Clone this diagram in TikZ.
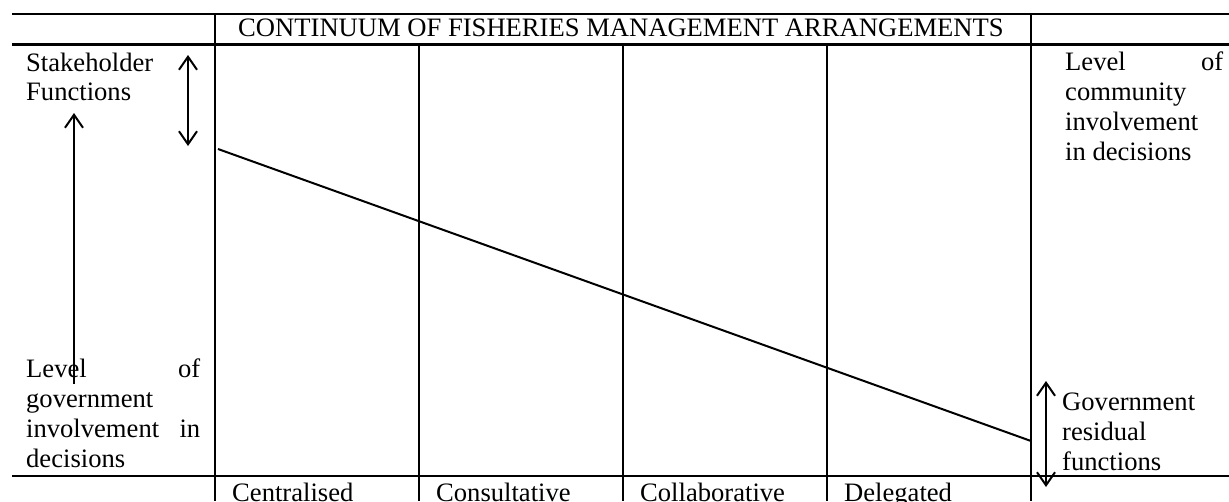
\documentclass[tikz,border=0pt]{standalone}
\usepackage{fontspec}
\setmainfont{Liberation Serif}
\usetikzlibrary{arrows.meta}
\begin{document}
\begin{tikzpicture}[x=1pt,y=-1pt,
  rule/.style={line width=2.7pt},
  slope/.style={line width=2pt},
  barb/.tip={Straight Barb[length=13pt,width=18pt,line width=2pt]},
  dblarrow/.style={line width=2pt,barb-barb},
  uparrow/.style={line width=2pt,-barb},
  lbl/.style={inner sep=0pt,anchor=base west,font=\fontsize{26.6}{30.4}\selectfont},
  ttl/.style={inner sep=0pt,anchor=base,font=\fontsize{26.6}{30.4}\selectfont}]
\useasboundingbox (0,0) rectangle (1229,501);
% table rules
\coordinate (hTopL) at (12,14);   \coordinate (hTopR) at (1229,14);
\coordinate (hMidL) at (12,44.5); \coordinate (hMidR) at (1229,44.5);
\coordinate (hBotL) at (12,476);  \coordinate (hBotR) at (1229,476);
\draw[rule] (hTopL) -- (hTopR);
\draw[rule] (hMidL) -- (hMidR);
\draw[rule] (hBotL) -- (hBotR);
\coordinate (v1t) at (215,14);   \coordinate (v1b) at (215,501);
\coordinate (v5t) at (1031,14);  \coordinate (v5b) at (1031,501);
\coordinate (v2t) at (419,44.5); \coordinate (v2b) at (419,501);
\coordinate (v3t) at (623,44.5); \coordinate (v3b) at (623,501);
\coordinate (v4t) at (827,44.5); \coordinate (v4b) at (827,501);
\draw[rule] (v1t) -- (v1b);
\draw[rule] (v2t) -- (v2b);
\draw[rule] (v3t) -- (v3b);
\draw[rule] (v4t) -- (v4b);
\draw[rule] (v5t) -- (v5b);
% title
\node[ttl] (title) at (621,36) {CONTINUUM OF FISHERIES MANAGEMENT ARRANGEMENTS};
% left labels
\node[lbl] (sh1) at (26,71) {Stakeholder};
\node[lbl] (sh2) at (26,100) {Functions};
\node[lbl,text width=174pt] (lg1) at (26,377) {Level\hfill of};
\node[lbl] (lg2) at (26,407) {government};
\node[lbl,text width=174pt] (lg3) at (26,437) {involvement\hfill in};
\node[lbl] (lg4) at (26,467) {decisions};
% right labels
\node[lbl,text width=158pt] (lc1) at (1065,70) {Level\hfill of};
\node[lbl] (lc2) at (1065,100) {community};
\node[lbl] (lc3) at (1065,130) {involvement};
\node[lbl] (lc4) at (1065,160) {in decisions};
\node[lbl] (gr1) at (1062,410) {Government};
\node[lbl] (gr2) at (1062,440) {residual};
\node[lbl] (gr3) at (1062,470) {functions};
% bottom labels
\node[lbl] (c1) at (232,501) {Centralised};
\node[lbl] (c2) at (436,501) {Consultative};
\node[lbl] (c3) at (640,501) {Collaborative};
\node[lbl] (c4) at (844,501) {Delegated};
% arrows
\coordinate (sfTop) at (188,55);  \coordinate (sfBot) at (188,146);
\draw[dblarrow] (sfTop) -- (sfBot);
\coordinate (upBot) at (74,384);  \coordinate (upTop) at (74,113);
\draw[uparrow] (upBot) -- (upTop);
\coordinate (grTop) at (1046,381); \coordinate (grBot) at (1046,487);
\draw[dblarrow] (grTop) -- (grBot);
% slope
\coordinate (dStart) at (218,149); \coordinate (dEnd) at (1031,441);
\draw[slope] (dStart) -- (dEnd);
\end{tikzpicture}
\end{document}
